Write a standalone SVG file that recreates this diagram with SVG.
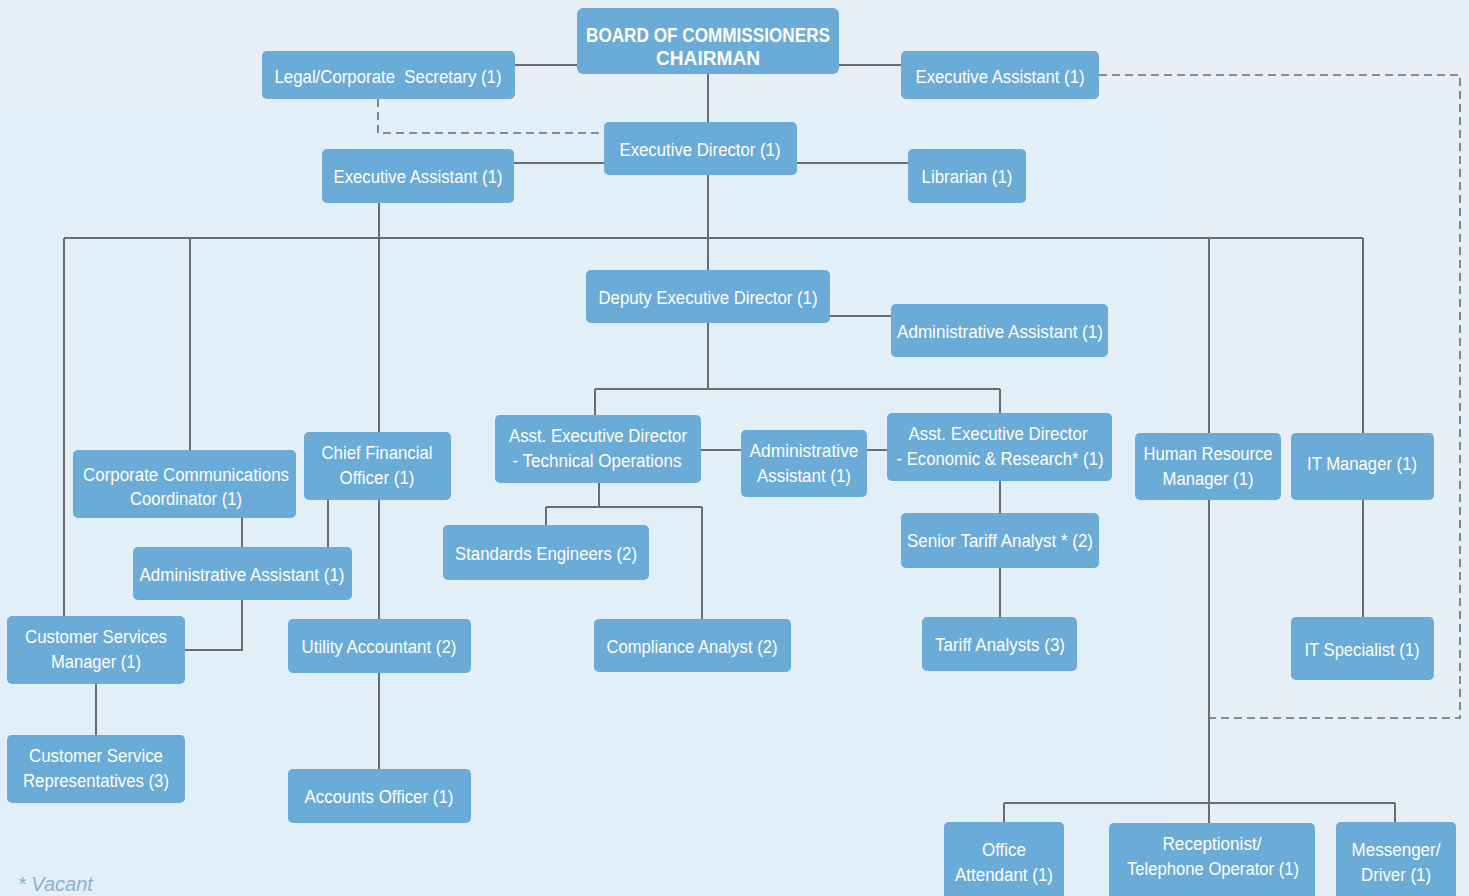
<svg xmlns="http://www.w3.org/2000/svg" width="1469" height="896" viewBox="0 0 1469 896">
<style>
.box{fill:#6aabd8;}
.t{font-family:"Liberation Sans Narrow","Liberation Sans",Arial,sans-serif;font-size:18px;fill:#ffffff;text-anchor:middle;}
.b{font-weight:bold;font-size:20px;}
.ln{stroke:#6c6c6c;stroke-width:2;fill:none;}
.ds{stroke:#6c6c6c;stroke-width:1.6;fill:none;stroke-dasharray:8 5;}
.note{font-family:"Liberation Sans",Arial,sans-serif;font-style:italic;font-size:20px;fill:#8fb0cf;}
</style>
<rect x="0" y="0" width="1469" height="896" fill="#e2eff8"/>
<rect x="0" y="0" width="1469" height="108" fill="#e7eef6"/>
<rect x="1170" y="108" width="299" height="788" fill="#e6eff6"/>
<g id="connectors">
<path class="ln" d="M515 65H577M839 65H901M708 74V122"/>
<path class="ln" d="M514 163H604M797 163H908M708 175V270"/>
<path class="ln" d="M64 238H1363M64 238V616M190 238V450M379 203V432M1209 238V433M1363 238V433"/>
<path class="ln" d="M830 316H891M708 323V389M595 389H1000M595 389V415M1000 389V413"/>
<path class="ln" d="M701 450H741M867 450H887"/>
<path class="ln" d="M599 483V507M546 507H702M546 507V525M702 507V619"/>
<path class="ln" d="M1000 481V513M1000 568V617"/>
<path class="ln" d="M242 518V547M328 500V547M379 500V619M379 673V769"/>
<path class="ln" d="M242 600V650H185M96 684V735"/>
<path class="ln" d="M1209 500V823M1004 803H1395M1004 803V822M1395 803V822M1363 500V617"/>
<path class="ds" d="M378 99V133H604"/>
<path class="ds" d="M1099 75H1460V718H1209"/>
</g>
<g id="board"><rect class="box" x="577" y="8" width="262" height="66" rx="6"/><text class="t b" x="708" y="42" textLength="244" lengthAdjust="spacingAndGlyphs">BOARD OF COMMISSIONERS</text><text class="t b" x="708" y="65" textLength="104" lengthAdjust="spacingAndGlyphs">CHAIRMAN</text></g>
<g id="legal"><rect class="box" x="262" y="51" width="253" height="48" rx="5"/><text class="t" x="388" y="83" textLength="227" lengthAdjust="spacingAndGlyphs" xml:space="preserve">Legal/Corporate  Secretary (1)</text></g>
<g id="ea-top"><rect class="box" x="901" y="51" width="198" height="48" rx="5"/><text class="t" x="1000" y="83" textLength="169" lengthAdjust="spacingAndGlyphs">Executive Assistant (1)</text></g>
<g id="exec-dir"><rect class="box" x="604" y="122" width="193" height="53" rx="5"/><text class="t" x="700" y="156" textLength="161" lengthAdjust="spacingAndGlyphs">Executive Director (1)</text></g>
<g id="ea-left"><rect class="box" x="322" y="149" width="192" height="54" rx="5"/><text class="t" x="418" y="183" textLength="169" lengthAdjust="spacingAndGlyphs">Executive Assistant (1)</text></g>
<g id="librarian"><rect class="box" x="908" y="149" width="118" height="54" rx="5"/><text class="t" x="967" y="183" textLength="91" lengthAdjust="spacingAndGlyphs">Librarian (1)</text></g>
<g id="deputy"><rect class="box" x="586" y="270" width="244" height="53" rx="5"/><text class="t" x="708" y="304" textLength="219" lengthAdjust="spacingAndGlyphs">Deputy Executive Director (1)</text></g>
<g id="admin-deputy"><rect class="box" x="891" y="304" width="217" height="53" rx="5"/><text class="t" x="1000" y="338" textLength="206" lengthAdjust="spacingAndGlyphs">Administrative Assistant (1)</text></g>
<g id="aed-tech"><rect class="box" x="495" y="415" width="206" height="68" rx="5"/><text class="t" x="598" y="442" textLength="178" lengthAdjust="spacingAndGlyphs">Asst. Executive Director</text><text class="t" x="597" y="467" textLength="169" lengthAdjust="spacingAndGlyphs">- Technical Operations</text></g>
<g id="admin-mid"><rect class="box" x="741" y="430" width="126" height="67" rx="5"/><text class="t" x="804" y="457" textLength="109" lengthAdjust="spacingAndGlyphs">Administrative</text><text class="t" x="804" y="482" textLength="94" lengthAdjust="spacingAndGlyphs">Assistant (1)</text></g>
<g id="aed-econ"><rect class="box" x="887" y="413" width="225" height="68" rx="5"/><text class="t" x="998" y="440" textLength="179" lengthAdjust="spacingAndGlyphs">Asst. Executive Director</text><text class="t" x="1000" y="465" textLength="207" lengthAdjust="spacingAndGlyphs">- Economic &amp; Research* (1)</text></g>
<g id="hr"><rect class="box" x="1135" y="433" width="146" height="67" rx="5"/><text class="t" x="1208" y="460" textLength="129" lengthAdjust="spacingAndGlyphs">Human Resource</text><text class="t" x="1208" y="485" textLength="91" lengthAdjust="spacingAndGlyphs">Manager (1)</text></g>
<g id="it-manager"><rect class="box" x="1291" y="433" width="143" height="67" rx="5"/><text class="t" x="1362" y="470" textLength="110" lengthAdjust="spacingAndGlyphs">IT Manager (1)</text></g>
<g id="ccc"><rect class="box" x="73" y="450" width="223" height="68" rx="5"/><text class="t" x="186" y="481" textLength="206" lengthAdjust="spacingAndGlyphs">Corporate Communications</text><text class="t" x="186" y="505" textLength="112" lengthAdjust="spacingAndGlyphs">Coordinator (1)</text></g>
<g id="cfo"><rect class="box" x="304" y="432" width="147" height="68" rx="5"/><text class="t" x="377" y="459" textLength="111" lengthAdjust="spacingAndGlyphs">Chief Financial</text><text class="t" x="377" y="484" textLength="75" lengthAdjust="spacingAndGlyphs">Officer (1)</text></g>
<g id="admin-left"><rect class="box" x="133" y="547" width="219" height="53" rx="5"/><text class="t" x="242" y="581" textLength="205" lengthAdjust="spacingAndGlyphs">Administrative Assistant (1)</text></g>
<g id="standards"><rect class="box" x="443" y="525" width="206" height="55" rx="5"/><text class="t" x="546" y="560" textLength="182" lengthAdjust="spacingAndGlyphs">Standards Engineers (2)</text></g>
<g id="senior-tariff"><rect class="box" x="901" y="513" width="198" height="55" rx="5"/><text class="t" x="1000" y="547" textLength="186" lengthAdjust="spacingAndGlyphs">Senior Tariff Analyst * (2)</text></g>
<g id="csm"><rect class="box" x="7" y="616" width="178" height="68" rx="5"/><text class="t" x="96" y="643" textLength="142" lengthAdjust="spacingAndGlyphs">Customer Services</text><text class="t" x="96" y="668" textLength="90" lengthAdjust="spacingAndGlyphs">Manager (1)</text></g>
<g id="utility"><rect class="box" x="288" y="619" width="183" height="54" rx="5"/><text class="t" x="379" y="653" textLength="155" lengthAdjust="spacingAndGlyphs">Utility Accountant (2)</text></g>
<g id="compliance"><rect class="box" x="594" y="619" width="197" height="53" rx="5"/><text class="t" x="692" y="653" textLength="171" lengthAdjust="spacingAndGlyphs">Compliance Analyst (2)</text></g>
<g id="tariff"><rect class="box" x="922" y="617" width="155" height="54" rx="5"/><text class="t" x="1000" y="651" textLength="130" lengthAdjust="spacingAndGlyphs">Tariff Analysts (3)</text></g>
<g id="it-specialist"><rect class="box" x="1291" y="617" width="143" height="63" rx="5"/><text class="t" x="1362" y="656" textLength="115" lengthAdjust="spacingAndGlyphs">IT Specialist (1)</text></g>
<g id="csr"><rect class="box" x="7" y="735" width="178" height="68" rx="5"/><text class="t" x="96" y="762" textLength="134" lengthAdjust="spacingAndGlyphs">Customer Service</text><text class="t" x="96" y="787" textLength="146" lengthAdjust="spacingAndGlyphs">Representatives (3)</text></g>
<g id="accounts"><rect class="box" x="288" y="769" width="183" height="54" rx="5"/><text class="t" x="379" y="803" textLength="149" lengthAdjust="spacingAndGlyphs">Accounts Officer (1)</text></g>
<g id="office"><rect class="box" x="944" y="822" width="120" height="80" rx="5"/><text class="t" x="1004" y="856" textLength="44" lengthAdjust="spacingAndGlyphs">Office</text><text class="t" x="1004" y="881" textLength="98" lengthAdjust="spacingAndGlyphs">Attendant (1)</text></g>
<g id="receptionist"><rect class="box" x="1109" y="823" width="206" height="80" rx="5"/><text class="t" x="1212" y="850" textLength="99" lengthAdjust="spacingAndGlyphs">Receptionist/</text><text class="t" x="1213" y="875" textLength="172" lengthAdjust="spacingAndGlyphs">Telephone Operator (1)</text></g>
<g id="messenger"><rect class="box" x="1336" y="822" width="120" height="80" rx="5"/><text class="t" x="1396" y="856" textLength="89" lengthAdjust="spacingAndGlyphs">Messenger/</text><text class="t" x="1396" y="881" textLength="70" lengthAdjust="spacingAndGlyphs">Driver (1)</text></g>
<text class="note" x="18" y="891">* Vacant</text>
</svg>
